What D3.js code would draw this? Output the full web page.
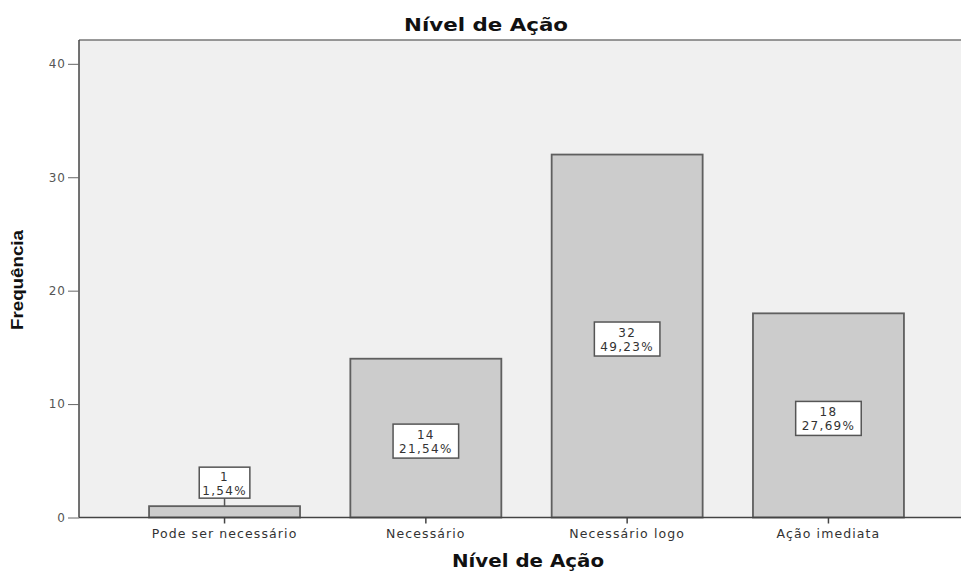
<!DOCTYPE html>
<html>
<head>
<meta charset="utf-8">
<script src="https://cdnjs.cloudflare.com/ajax/libs/d3/7.8.5/d3.min.js"></script>
<style>
  body { margin: 0; background: #fff; }
</style>
</head>
<body>
<div id="chart"></div>
<script>
const width = 961;
const height = 571;

// data
const categories = ["Pode ser necessário", "Necessário", "Necessário logo", "Ação imediata"];
const counts = [1, 14, 32, 18];
const percents = ["1,54%", "21,54%", "49,23%", "27,69%"];
const yTicks = [0, 10, 20, 30, 40];

const margin = { left: 79, top: 40, right: -13 };
const plotRight = width - margin.right;
const font = "DejaVu Sans, Verdana, sans-serif";

const svg = d3.select("#chart").append("svg").attr("width", width).attr("height", height);

const x = d3.scaleBand().domain(categories).range([margin.left, plotRight])
    .paddingInner(0.25).paddingOuter(0.348);
const y = d3.scaleLinear().domain([0, 42.1]).range([517.5, margin.top]);

// plot background
svg.append("rect")
    .attr("x", margin.left).attr("y", margin.top)
    .attr("width", plotRight - margin.left).attr("height", y(0) - margin.top)
    .attr("fill", "#f0f0f0");

// top frame line
svg.append("line")
    .attr("x1", margin.left).attr("x2", width)
    .attr("y1", margin.top).attr("y2", margin.top)
    .attr("stroke", "#777").attr("stroke-width", 1.5);

// bars
svg.selectAll(".bar").data(counts).enter()
    .append("rect")
    .attr("class", "bar")
    .attr("x", (d, i) => x(categories[i]))
    .attr("y", d => y(d))
    .attr("width", x.bandwidth())
    .attr("height", d => y(0) - y(d))
    .attr("fill", "#cccccc")
    .attr("stroke", "#5f5f5f")
    .attr("stroke-width", 1.8);

// y axis
const yAxis = svg.append("g")
    .attr("transform", `translate(${margin.left},0)`)
    .call(d3.axisLeft(y).tickValues(yTicks).tickSize(11).tickPadding(2));
yAxis.select(".domain").attr("stroke", "#444").attr("stroke-width", 1.5)
    .attr("d", `M0,${margin.top}V${y(0)}`);
yAxis.selectAll(".tick line").attr("stroke", "#666");
yAxis.selectAll(".tick text")
    .attr("fill", "#555").attr("font-size", 12).attr("font-family", font)
    .attr("letter-spacing", 1);

// x axis
const xAxis = svg.append("g")
    .attr("transform", `translate(0,${y(0)})`)
    .call(d3.axisBottom(x).tickSize(6).tickPadding(6));
xAxis.select(".domain").attr("stroke", "#444").attr("stroke-width", 1.5)
    .attr("d", `M${margin.left},0H${width}`);
xAxis.selectAll(".tick line").attr("stroke", "#444").attr("stroke-width", 1.5);
xAxis.selectAll(".tick text")
    .attr("fill", "#333").attr("font-size", 12.5).attr("font-family", font)
    .attr("letter-spacing", 1.1);

// value labels
counts.forEach((d, i) => {
    const cx = x(categories[i]) + x.bandwidth() / 2;
    const inside = (y(0) - y(d)) > 50;
    const h = inside ? 34 : 31;
    const cy = inside ? (y(d) + y(0)) / 2 + 3 : y(d) - 8 - h / 2;
    const g = svg.append("g");
    const box = g.append("rect");
    const t1 = g.append("text")
        .attr("x", cx).attr("y", cy - 2)
        .attr("text-anchor", "middle").attr("font-size", 12).attr("font-family", font)
        .attr("letter-spacing", 1.3).attr("fill", "#333")
        .text(d);
    const t2 = g.append("text")
        .attr("x", cx).attr("y", cy + 12)
        .attr("text-anchor", "middle").attr("font-size", 12).attr("font-family", font)
        .attr("letter-spacing", 1.3).attr("fill", "#333")
        .text(percents[i]);
    const w = Math.max(t1.node().getComputedTextLength(), t2.node().getComputedTextLength()) + (inside ? 12 : 6);
    box.attr("x", cx - w / 2).attr("y", cy - h / 2)
        .attr("width", w).attr("height", h)
        .attr("fill", "#fff").attr("stroke", "#555").attr("stroke-width", 1.5);
    if (!inside) {
        svg.append("line")
            .attr("x1", cx).attr("x2", cx)
            .attr("y1", cy + h / 2).attr("y2", y(d))
            .attr("stroke", "#555").attr("stroke-width", 1.5);
    }
});

// titles
svg.append("text")
    .attr("x", 486).attr("y", 31)
    .attr("text-anchor", "middle").attr("font-size", 17).attr("font-weight", "bold")
    .attr("font-family", font).attr("fill", "#111")
    .attr("textLength", 164).attr("lengthAdjust", "spacingAndGlyphs")
    .text("Nível de Ação");

svg.append("text")
    .attr("x", 528).attr("y", 567)
    .attr("text-anchor", "middle").attr("font-size", 17).attr("font-weight", "bold")
    .attr("font-family", font).attr("fill", "#111")
    .attr("textLength", 152).attr("lengthAdjust", "spacingAndGlyphs")
    .text("Nível de Ação");

svg.append("text")
    .attr("transform", "translate(23,280) rotate(-90)")
    .attr("text-anchor", "middle").attr("font-size", 16).attr("font-weight", "bold")
    .attr("font-family", "Liberation Sans, Arial, sans-serif").attr("fill", "#111")
    .attr("textLength", 100).attr("lengthAdjust", "spacingAndGlyphs")
    .text("Frequência");
</script>
</body>
</html>
